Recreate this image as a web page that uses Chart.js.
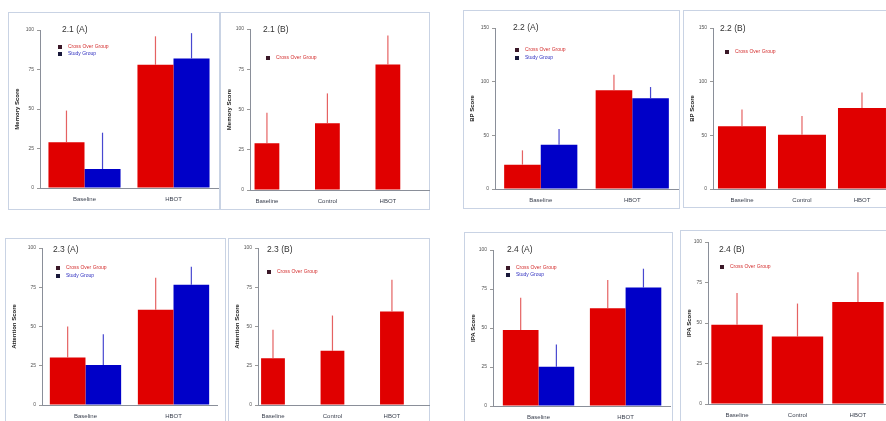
<!DOCTYPE html>
<html>
<head>
<meta charset="utf-8">
<script src="https://cdn.jsdelivr.net/npm/chart.js@4"></script>
<style>
  html, body { margin: 0; padding: 0; background: #fff; }
  body { position: relative; width: 886px; height: 421px; overflow: hidden; }
  .frame { position: absolute; border: 1px solid #c9d3e4; box-sizing: border-box; }
  canvas { position: absolute; }
</style>
</head>
<body>
<script>
// categories
const groups2 = ['Baseline', 'HBOT'];
const groups3 = ['Baseline', 'Control', 'HBOT'];
const seriesNames = ['Cross Over Group', 'Study Group'];

// y ticks
const ticks100 = [0, 25, 50, 75, 100];
const ticks150 = [0, 50, 100, 150];

// 2.1 Memory Score (mean, mean + SD)
const memCross = [29, 78];
const memCrossUp = [49, 96];
const memStudy = [12, 82];
const memStudyUp = [35, 98];
const memB = [29, 41.5, 78];
const memBUp = [48, 60, 96];

// 2.2 BP Score
const bpCross = [22.7, 92];
const bpCrossUp = [36, 106.5];
const bpStudy = [41.3, 84.5];
const bpStudyUp = [56, 95];
const bpB = [58.4, 50.6, 75.5];
const bpBUp = [74, 68, 90];

// 2.3 Attention Score
const attCross = [30.2, 60.6];
const attCrossUp = [50, 81];
const attStudy = [25.5, 76.6];
const attStudyUp = [45, 88];
const attB = [29.8, 34.5, 59.6];
const attBUp = [47.9, 57, 79.8];

// 2.4 IPA Score
const ipaCross = [48.7, 62.6];
const ipaCrossUp = [69.4, 80.8];
const ipaStudy = [25.2, 75.9];
const ipaStudyUp = [39.5, 88];
const ipaB = [48.9, 41.6, 62.9];
const ipaBUp = [68.5, 62, 81.4];

const RED = '#e00000';
const BLUE = '#0000c8';
const RED_ERR = 'rgba(225,70,70,0.85)';
const BLUE_ERR = 'rgba(40,40,200,0.85)';

Chart.defaults.font.family = '"Liberation Sans", Arial, sans-serif';
Chart.defaults.animation = false;

function crossSet(values, upper) {
    return { label: seriesNames[0], data: values.map((v, i) => ({ x: i, y: v })), upper: upper,
        backgroundColor: RED, errColor: RED_ERR, textColor: '#d43030', boxColor: '#3a1828' };
}
function studySet(values, upper) {
    return { label: seriesNames[1], data: values.map((v, i) => ({ x: i, y: v })), upper: upper,
        backgroundColor: BLUE, errColor: BLUE_ERR, textColor: '#3030c0', boxColor: '#18183a' };
}

const panels = [
    { box: [8, 12, 220, 210], area: [40, 30, 218, 188], xr: [-0.5, 1.5], pct: 0.81,
      title: '2.1 (A)', tPos: [62, 30], lPos: [60, 47], gap: 7, yTitle: 'Memory Score', ticks: ticks100,
      cats: groups2, sets: [crossSet(memCross, memCrossUp), studySet(memStudy, memStudyUp)] },
    { box: [220, 12, 430, 210], area: [250, 29, 429, 190], xr: [-0.28, 2.68], pct: 0.41,
      title: '2.1 (B)', tPos: [263, 30], lPos: [268, 58], gap: 7, yTitle: 'Memory Score', ticks: ticks100,
      cats: groups3, sets: [crossSet(memB, memBUp)] },
    { box: [463, 10, 680, 209], area: [495, 28, 678, 189], xr: [-0.5, 1.5], pct: 0.8,
      title: '2.2 (A)', tPos: [513, 28], lPos: [517, 50], gap: 8, yTitle: 'BP Score', ticks: ticks150,
      cats: groups2, sets: [crossSet(bpCross, bpCrossUp), studySet(bpStudy, bpStudyUp)] },
    { box: [683, 10, 896, 208], area: [713, 28, 890, 189], xr: [-0.483, 2.467], pct: 0.8,
      title: '2.2 (B)', tPos: [720, 29], lPos: [727, 52], gap: 7, yTitle: 'BP Score', ticks: ticks150,
      cats: groups3, sets: [crossSet(bpB, bpBUp)] },
    { box: [5, 238, 226, 440], area: [42, 248, 217, 405], xr: [-0.494, 1.494], pct: 0.81,
      title: '2.3 (A)', tPos: [53, 250], lPos: [58, 268], gap: 8, yTitle: 'Attention Score', ticks: ticks100,
      cats: groups2, sets: [crossSet(attCross, attCrossUp), studySet(attStudy, attStudyUp)] },
    { box: [228, 238, 430, 440], area: [258, 248, 430, 405], xr: [-0.252, 2.64], pct: 0.4,
      title: '2.3 (B)', tPos: [267, 250], lPos: [269, 272], gap: 7, yTitle: 'Attention Score', ticks: ticks100,
      cats: groups3, sets: [crossSet(attB, attBUp)] },
    { box: [464, 232, 673, 440], area: [493, 250, 670, 406], xr: [-0.523, 1.51], pct: 0.82,
      title: '2.4 (A)', tPos: [507, 250], lPos: [508, 268], gap: 7, yTitle: 'IPA Score', ticks: ticks100,
      cats: groups2, sets: [crossSet(ipaCross, ipaCrossUp), studySet(ipaStudy, ipaStudyUp)] },
    { box: [680, 230, 896, 440], area: [708, 242, 890, 404], xr: [-0.48, 2.53], pct: 0.85,
      title: '2.4 (B)', tPos: [719, 250], lPos: [722, 267], gap: 7, yTitle: 'IPA Score', ticks: ticks100,
      cats: groups3, sets: [crossSet(ipaB, ipaBUp)] }
];

// thin upward error lines
const errorBars = {
    id: 'errorBars',
    afterDatasetsDraw(chart) {
        const ctx = chart.ctx;
        const y = chart.scales.y;
        chart.data.datasets.forEach((ds, di) => {
            const meta = chart.getDatasetMeta(di);
            meta.data.forEach((bar, i) => {
                ctx.save();
                ctx.strokeStyle = ds.errColor;
                ctx.lineWidth = 1.2;
                ctx.beginPath();
                ctx.moveTo(bar.x, bar.y);
                ctx.lineTo(bar.x, y.getPixelForValue(ds.upper[i]));
                ctx.stroke();
                ctx.restore();
            });
        });
    }
};

// panel label and small legend inside the plot
const panelText = {
    id: 'panelText',
    afterDraw(chart, args, opts) {
        const ctx = chart.ctx;
        ctx.save();
        ctx.textBaseline = 'middle';
        ctx.textAlign = 'left';
        ctx.fillStyle = '#333';
        ctx.font = '8.5px "Liberation Sans", Arial, sans-serif';
        ctx.fillText(opts.title, opts.tx, opts.ty);
        ctx.font = '5px "Liberation Sans", Arial, sans-serif';
        chart.data.datasets.forEach((ds, i) => {
            const yy = opts.ly + i * opts.gap;
            ctx.fillStyle = ds.boxColor;
            ctx.fillRect(opts.lx - 2, yy - 2, 4, 4);
            ctx.fillStyle = ds.textColor;
            ctx.fillText(ds.label, opts.lx + 8, yy);
        });
        ctx.restore();
    }
};

panels.forEach(p => {
    const [bl, bt, br, bb] = p.box;
    const [al, at, ar, ab] = p.area;
    const frame = document.createElement('div');
    frame.className = 'frame';
    frame.style.left = bl + 'px';
    frame.style.top = bt + 'px';
    frame.style.width = (br - bl) + 'px';
    frame.style.height = (bb - bt) + 'px';
    document.body.appendChild(frame);

    const canvas = document.createElement('canvas');
    canvas.width = br - bl;
    canvas.height = bb - bt;
    canvas.style.left = bl + 'px';
    canvas.style.top = bt + 'px';
    canvas.style.width = (br - bl) + 'px';
    canvas.style.height = (bb - bt) + 'px';
    document.body.appendChild(canvas);

    new Chart(canvas, {
        type: 'bar',
        data: { datasets: p.sets.map(s => Object.assign({ borderWidth: 0 }, s)) },
        options: {
            responsive: false,
            devicePixelRatio: 1,
            layout: { padding: { left: 0, top: at - bt, right: br - ar, bottom: 0 } },
            categoryPercentage: p.pct,
            barPercentage: 1,
            plugins: {
                legend: { display: false },
                tooltip: { enabled: false },
                panelText: { title: p.title, tx: p.tPos[0] - bl, ty: p.tPos[1] - bt,
                             lx: p.lPos[0] - bl, ly: p.lPos[1] - bt, gap: p.gap }
            },
            scales: {
                x: {
                    type: 'linear',
                    offset: false,
                    min: p.xr[0],
                    max: p.xr[1],
                    afterBuildTicks: s => { s.ticks = p.cats.map((c, i) => ({ value: i })); },
                    afterFit: s => { s.height = bb - ab; },
                    ticks: {
                        autoSkip: false, maxRotation: 0, padding: 0,
                        color: '#3c4250', font: { size: 6 },
                        callback: v => p.cats[v]
                    },
                    grid: { display: false },
                    border: { display: true, color: '#8a8f99', width: 1 }
                },
                y: {
                    min: 0,
                    max: p.ticks[p.ticks.length - 1],
                    afterBuildTicks: s => { s.ticks = p.ticks.map(v => ({ value: v })); },
                    afterFit: s => { s.width = al - bl; },
                    ticks: { color: '#555', font: { size: 5 }, padding: 3 },
                    grid: { display: true, drawOnChartArea: false, drawTicks: true, tickLength: 3, color: '#999' },
                    border: { display: true, color: '#8a8f99', width: 1 },
                    title: { display: true, text: p.yTitle, color: '#222', font: { size: 6, weight: 'bold' }, padding: { top: 6, bottom: 0 } }
                }
            }
        },
        plugins: [errorBars, panelText]
    });
});
</script>
</body>
</html>
